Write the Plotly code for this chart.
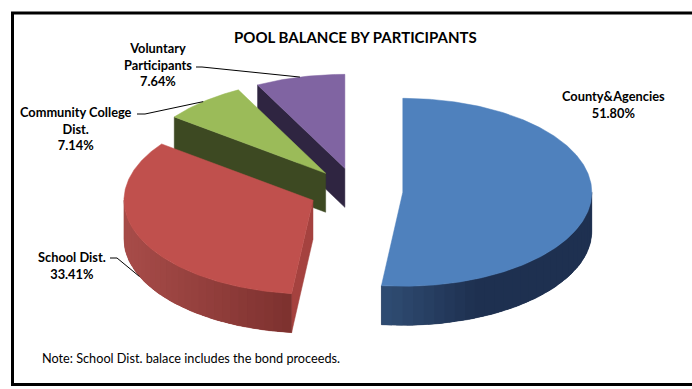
import numpy as np
import plotly.graph_objects as go

# ---- data -------------------------------------------------------------
participants = ["County&Agencies", "School Dist.", "Community College Dist.", "Voluntary Participants"]
label_lines = [["County&Agencies"], ["School Dist."], ["Community College", "Dist."], ["Voluntary", "Participants"]]
shares = [51.80, 33.41, 7.14, 7.64]

title_text = "POOL BALANCE BY PARTICIPANTS"
note_text = "Note: School Dist. balace includes the bond proceeds."

# ---- styling ----------------------------------------------------------
top_colors = ["#4F81BD", "#C0504D", "#9BBB59", "#8064A2"]
face_colors = ["#253D5E", "#A5423F", "#3D4922", "#2F2541"]
wall_light = ["#2F4C72", "#A64B48", "#5F7434", "#4B3B61"]
wall_dark = ["#1E3050", "#7A2F2D", "#3D4922", "#2F2541"]

# label placement (text centre, leader start, leader elbow)
label_pos = [(613, 104), (72, 265), (76, 128), (158, 64)]
leader_start = [None, (110, 258), (137, 114), (196, 67)]
leader_elbow = [None, (117, 258), (145, 114), (202, 67)]
leader_on_wall = [False, True, False, False]

# tilted-pie geometry (pixel space)
CX, CY = 356.0, 191.0
RX, RY = 189.0, 94.0
DEPTH = 39.0
EXPLODE = 0.248
W, H = 692, 389
FONT = "Lato"
LABEL_SIZE = 12.8

total = sum(shares)
bounds = np.concatenate([[0.0], np.cumsum(shares)]) / total * 360.0


def point(theta, ox, oy, r=1.0, dz=0.0):
    t = np.radians(theta)
    return ox + r * RX * np.sin(t), oy - r * RY * np.cos(t) + dz


def hexmix(c1, c2, f):
    a = [int(c1[i:i + 2], 16) for i in (1, 3, 5)]
    b = [int(c2[i:i + 2], 16) for i in (1, 3, 5)]
    m = [round(a[k] + (b[k] - a[k]) * f) for k in range(3)]
    return "#%02X%02X%02X" % tuple(m)


def poly(xs, ys, color, lw=0.0):
    xs = list(xs) + [xs[0]]
    ys = list(ys) + [ys[0]]
    return go.Scatter(x=xs, y=ys, mode="lines", fill="toself", fillcolor=color,
                      line=dict(color=color, width=lw), hoverinfo="skip",
                      showlegend=False)


def wall_shade(i, xm):
    if i == 0:
        f = np.clip((xm - 383) / 90, 0, 1)
    else:
        f = np.clip((xm - 130) / 170, 0, 1)
    return hexmix(wall_light[i], wall_dark[i], f)


fig = go.Figure()

slices = []
for i, v in enumerate(shares):
    a0, a1 = bounds[i], bounds[i + 1]
    mid = (a0 + a1) / 2
    ox, oy = point(mid, CX, CY, EXPLODE)
    slices.append((i, a0, a1, mid, ox, oy))

# far slices first
for i, a0, a1, mid, ox, oy in sorted(slices, key=lambda s: s[5]):
    traces = []
    # radial cut faces that turn toward the viewer
    for ang, normal in ((a0, a0 - 90), (a1, a1 + 90)):
        if np.cos(np.radians(normal)) < -1e-6:
            px, py = point(ang, ox, oy)
            traces.append(poly([ox, px, px, ox], [oy, py, py + DEPTH, oy + DEPTH],
                               face_colors[i], 0.5))
    # outer wall on the near half, shaded left-to-right
    lo, hi = max(a0, 90.0), min(a1, 270.0)
    if hi > lo:
        th = np.linspace(lo, hi, 60)
        xs, ys = point(th, ox, oy)
        xb, yb = point(th[::-1], ox, oy, dz=DEPTH)
        traces.append(poly(list(xs) + list(xb), list(ys) + list(yb),
                           wall_shade(i, xs.mean()), 0.5))
        edges = np.linspace(lo, hi, 31)
        step = edges[1] - edges[0]
        for k in range(len(edges) - 1):
            e0 = edges[k]
            e1 = min(edges[k + 1] + 0.6 * step, hi)
            th = np.linspace(e0, e1, 4)
            xs, ys = point(th, ox, oy)
            xb, yb = point(th[::-1], ox, oy, dz=DEPTH)
            traces.append(poly(list(xs) + list(xb), list(ys) + list(yb),
                               wall_shade(i, xs.mean())))
    # top face
    th = np.linspace(a0, a1, max(8, int((a1 - a0) * 1.5)))
    xs, ys = point(th, ox, oy)
    traces.append(poly([ox] + list(xs), [oy] + list(ys), top_colors[i], 0.5))
    for t in traces:
        fig.add_trace(t)

# data labels and leader lines
for i, a0, a1, mid, ox, oy in slices:
    txt = "<br>".join(label_lines[i] + [f"{shares[i]:.2f}%"])
    lx, ly = label_pos[i]
    fig.add_annotation(x=lx, y=ly, text=txt, showarrow=False, xanchor="center",
                       yanchor="middle", align="center",
                       font=dict(family=FONT, size=LABEL_SIZE, color="#000000", weight="bold"))
    if leader_start[i] is not None:
        ex, ey = point(mid, ox, oy, dz=DEPTH if leader_on_wall[i] else 0.0)
        sx, sy = leader_start[i]
        bx, by = leader_elbow[i]
        fig.add_trace(go.Scatter(x=[sx, bx, ex], y=[sy, by, ey], mode="lines",
                                 line=dict(color="#000000", width=1),
                                 hoverinfo="skip", showlegend=False))

fig.add_annotation(x=355, y=37, text=title_text, showarrow=False,
                   xanchor="center", yanchor="middle",
                   font=dict(family=FONT, size=15, color="#000000", weight="bold"))
fig.add_annotation(x=40, y=358, text=note_text, showarrow=False,
                   xanchor="left", yanchor="middle",
                   font=dict(family=FONT, size=12.7, color="#000000"))

# chart frame
fig.add_shape(type="rect", x0=12.5, y0=13, x1=705, y1=384.5,
              line=dict(color="#000000", width=3), fillcolor="rgba(0,0,0,0)")

fig.update_layout(
    width=W, height=H,
    margin=dict(l=0, r=0, t=0, b=0),
    paper_bgcolor="#FFFFFF", plot_bgcolor="#FFFFFF",
    xaxis=dict(range=[0, W], visible=False, fixedrange=True),
    yaxis=dict(range=[H, 0], visible=False, fixedrange=True),
    showlegend=False,
)

fig.write_html("out.html")
